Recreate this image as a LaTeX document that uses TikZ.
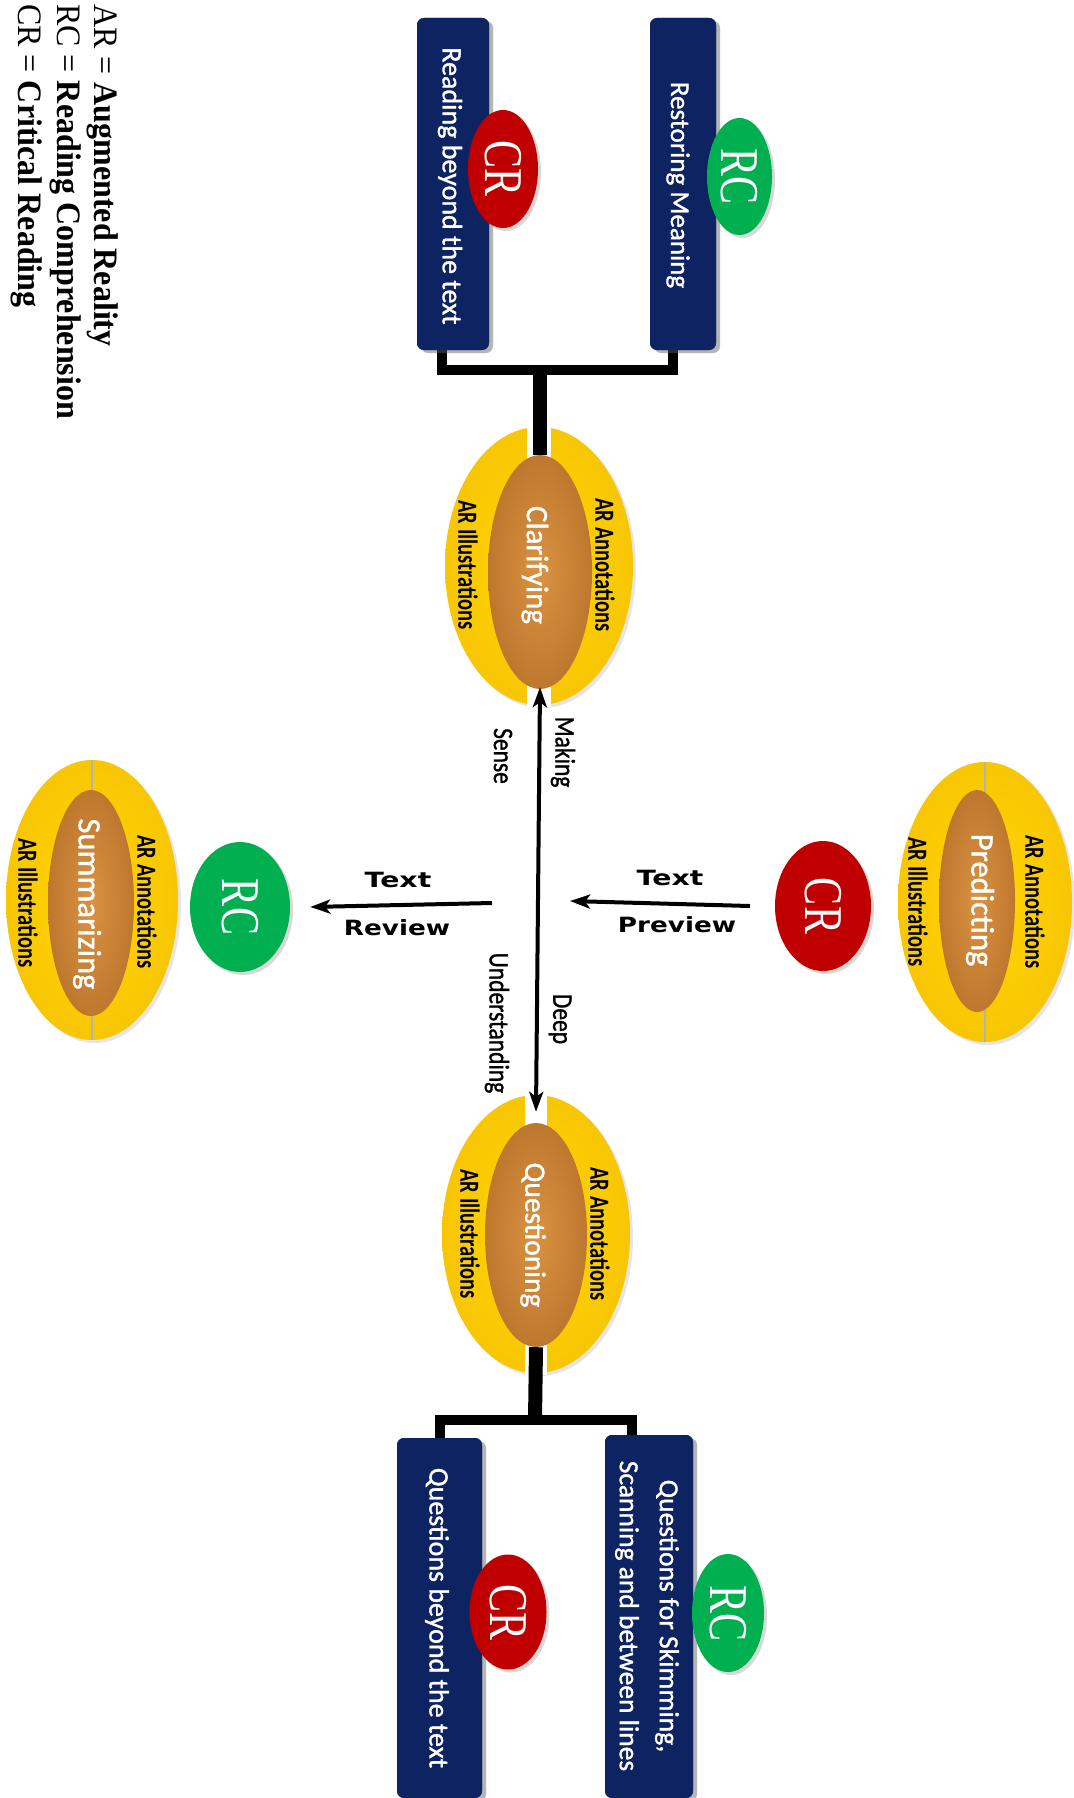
\documentclass[tikz,border=0pt]{standalone}
\usepackage{fontspec}
\setmainfont{Carlito}
\newfontfamily\medfont{Carlito}[FakeBold=1.2]
\newfontfamily\legfont{Liberation Serif}
\newfontfamily\arrfont{DejaVu Sans}
\usetikzlibrary{shapes.geometric,arrows.meta,shadows,calc}
\definecolor{navy}{RGB}{14,35,98}
\definecolor{crred}{RGB}{192,0,0}
\definecolor{rcgreen}{RGB}{0,176,80}
\definecolor{ylw}{RGB}{255,214,0}
\definecolor{ylwdark}{RGB}{248,198,4}
\definecolor{orng}{RGB}{218,146,66}
\definecolor{orngdark}{RGB}{190,120,46}
\newcommand\tallA[2][1.3]{\scalebox{1}[#1]{#2}}
\tikzset{
  stratbox/.style={fill=navy, rounded corners=7pt, inner sep=0pt,
    drop shadow={opacity=0.35, shadow xshift=4pt, shadow yshift=-3pt}},
  outerell/.style={ellipse, inner sep=0pt, inner color=ylw, outer color=ylwdark,
    drop shadow={opacity=0.2, shadow xshift=3pt, shadow yshift=-3pt}},
  innerell/.style={ellipse, inner sep=0pt, inner color=orng, outer color=orngdark},
  badge/.style={ellipse, inner sep=0pt, text=white,
    drop shadow={opacity=0.3, shadow xshift=3pt, shadow yshift=-3pt}},
  vlab/.style={rotate=-90, inner sep=0pt},
  artxt/.style={vlab, font=\fontsize{20.5}{22}\selectfont\bfseries},
  strat/.style={vlab, text=white},
  boxtxt/.style={vlab, text=white, font=\medfont\fontsize{28}{40}\selectfont, align=center},
  arlab/.style={vlab, font=\medfont\fontsize{23.5}{26}\selectfont},
  hlab/.style={inner sep=0pt, font=\arrfont\fontsize{21}{24}\selectfont\bfseries},
  badgetxt/.style={font=\legfont\fontsize{42}{46}\selectfont},
  legtxt/.style={vlab, anchor=base west, font=\legfont\fontsize{32}{36}\selectfont},
  conn/.style={line width=10pt, line join=miter},
  stem/.style={line width=14pt},
  bigarrow/.style={line width=4pt, {Stealth[length=20pt,width=14pt,inset=5pt]}-{Stealth[length=20pt,width=14pt,inset=5pt]}},
  onearrow/.style={line width=4pt, -{Stealth[length=20pt,width=14pt,inset=5pt]}}
}
\begin{document}
\begin{tikzpicture}[x=1pt,y=-1pt]
\useasboundingbox[fill=white] (0,0) rectangle (1073,1798);

% ---------- ellipses ----------
\node[outerell, minimum width=188pt, minimum height=278pt] (clarOut) at (539,566) {};
\fill[white] ($(clarOut.north)+(-12,-2)$) rectangle ($(clarOut.south)+(12,2)$);
\node[innerell, minimum width=104pt, minimum height=234pt] (clarIn) at (540,572) {};

\node[outerell, minimum width=188pt, minimum height=278pt] (quesOut) at (536,1234) {};
\fill[white] ($(quesOut.north)+(-11,-2)$) rectangle ($(quesOut.south)+(11,2)$);
\node[innerell, minimum width=102pt, minimum height=224pt] (quesIn) at (536,1235) {};

\node[outerell, minimum width=174pt, minimum height=280pt] (predOut) at (985,902) {};
\draw[gray!60, line width=2.5pt] (predOut.north) -- (predOut.south);
\node[innerell, minimum width=76pt, minimum height=222pt] (predIn) at (977,901) {};

\node[outerell, minimum width=172pt, minimum height=280pt] (sumOut) at (92,900) {};
\draw[gray!60, line width=2.5pt] (sumOut.north) -- (sumOut.south);
\node[innerell, minimum width=86pt, minimum height=226pt] (sumIn) at (91,903) {};

% ellipse labels
\node[artxt] (annC) at (605,565) {\tallA[1.35]{AR Annotations}};
\node[artxt] (illC) at (468,565) {\tallA[1.35]{AR Illustrations}};
\node[strat, font=\medfont\fontsize{31}{34}\selectfont] (clarT) at (535,565) {Clarifying};

\node[artxt] (annQ) at (600,1234) {\tallA[1.35]{AR Annotations}};
\node[artxt] (illQ) at (470,1234) {\tallA[1.35]{AR Illustrations}};
\node[strat, font=\medfont\fontsize{29.5}{32}\selectfont] (quesT) at (533,1235) {Questioning};

\node[artxt] (annP) at (1035,902) {\tallA[1.35]{AR Annotations}};
\node[artxt] (illP) at (918,902) {\tallA[1.35]{AR Illustrations}};
\node[strat, font=\medfont\fontsize{32.5}{35}\selectfont] (predT) at (980,900) {Predicting};

\node[artxt] (annS) at (147,902) {\tallA[1.35]{AR Annotations}};
\node[artxt] (illS) at (28,903) {\tallA[1.35]{AR Illustrations}};
\node[strat, font=\medfont\fontsize{32.5}{35}\selectfont] (sumT) at (87,904) {Summarizing};

% ---------- boxes ----------
\coordinate (topJ) at (540,370);
\coordinate (botJ) at (535,1420);
\node[stratbox, minimum width=72pt, minimum height=332pt] (readBox) at (453,184) {};
\node[stratbox, minimum width=66pt, minimum height=332pt] (restBox) at (683,184) {};
\node[stratbox, minimum width=85pt, minimum height=360pt] (qbBox) at (439.5,1618) {};
\node[stratbox, minimum width=88pt, minimum height=363pt] (qsBox) at (649,1616.5) {};

% connectors
\draw[stem] (clarIn.north) -- (topJ);
\draw[conn] ($(readBox.south)+(-11,-4)$) |- (topJ) -| ($(restBox.south)+(-10,-4)$);
\draw[stem] (quesIn.south) -- (botJ);
\draw[conn] ($(qbBox.north)+(0.5,4)$) |- (botJ) -| ($(qsBox.north)+(-17,4)$);

% redraw boxes on top of connector ends
\node[stratbox, minimum width=72pt, minimum height=332pt] (readBoxB) at (readBox) {};
\node[stratbox, minimum width=66pt, minimum height=332pt] (restBoxB) at (restBox) {};
\node[stratbox, minimum width=85pt, minimum height=360pt] (qbBoxB) at (qbBox) {};
\node[stratbox, minimum width=88pt, minimum height=363pt] (qsBoxB) at (qsBox) {};

\node[boxtxt] (readT) at (450,186) {Reading beyond the text};
\node[boxtxt, font=\medfont\fontsize{27}{30}\selectfont] (restT) at (678,185) {Restoring Meaning};
\node[boxtxt] (qbT) at (437,1618) {Questions beyond the text};
\node[boxtxt, font=\medfont\fontsize{27.5}{40}\selectfont] (qsT) at (647,1616) {Questions for Skimming,\\Scanning and between lines};

% badges
\node[badge, fill=crred, minimum width=70pt, minimum height=118pt] (crTop) at (503,169) {};
\node[badgetxt, vlab, text=white] (crTopT) at (crTop) {\tallA[1.3]{CR}};
\node[badge, fill=rcgreen, minimum width=65pt, minimum height=117pt] (rcTop) at (739.5,176.5) {};
\node[badgetxt, vlab, text=white] (rcTopT) at (rcTop) {\tallA[1.3]{RC}};
\node[badge, fill=crred, minimum width=96pt, minimum height=130pt] (crP) at (823,906) {};
\node[badgetxt, vlab, text=white] (crPT) at (crP) {\tallA[1.3]{CR}};
\node[badge, fill=rcgreen, minimum width=100pt, minimum height=130pt] (rcS) at (240,907) {};
\node[badgetxt, vlab, text=white] (rcST) at (rcS) {\tallA[1.3]{RC}};
\node[badge, fill=crred, minimum width=77pt, minimum height=115pt] (crQ) at (508,1612) {};
\node[badgetxt, vlab, text=white] (crQT) at (crQ) {\tallA[1.3]{CR}};
\node[badge, fill=rcgreen, minimum width=72pt, minimum height=118pt] (rcQ) at (728,1613) {};
\node[badgetxt, vlab, text=white] (rcQT) at (rcQ) {\tallA[1.3]{RC}};

% ---------- arrows ----------
\draw[bigarrow] ($(clarIn.south)+(0,-2)$) -- ($(quesIn.north)+(0,-11)$);
\coordinate (pvEnd) at (570,901);
\draw[onearrow] ($(crP.west)+(-25,0)$) -- (pvEnd);
\coordinate (rvStart) at (492,903);
\draw[onearrow] (rvStart) -- ($(rcS.east)+(20,0)$);

\node[arlab] (making) at (563,752) {\tallA[1.2]{Making}};
\node[arlab] (sense) at (503,756) {\tallA[1.2]{Sense}};
\node[arlab] (deep) at (560,1019) {\tallA[1.2]{Deep}};
\node[arlab] (underst) at (497,1023) {\tallA[1.2]{Understanding}};

\node[hlab] (txtP) at (670,878) {\scalebox{1.35}[1]{Text}};
\node[hlab] (prev) at (677,925) {\scalebox{1.25}[1]{Preview}};
\node[hlab] (txtR) at (398,880) {\scalebox{1.35}[1]{Text}};
\node[hlab] (rev) at (397,928) {\scalebox{1.25}[1]{Review}};

% ---------- legend ----------
\node[legtxt] (legAR) at (94,4) {\tallA[1.07]{AR = \textbf{Augmented Reality}}};
\node[legtxt] (legRC) at (57,4) {\tallA[1.07]{RC = \textbf{Reading Comprehension}}};
\node[legtxt] (legCR) at (18,4) {\tallA[1.07]{CR = \textbf{Critical Reading}}};
\end{tikzpicture}
\end{document}
